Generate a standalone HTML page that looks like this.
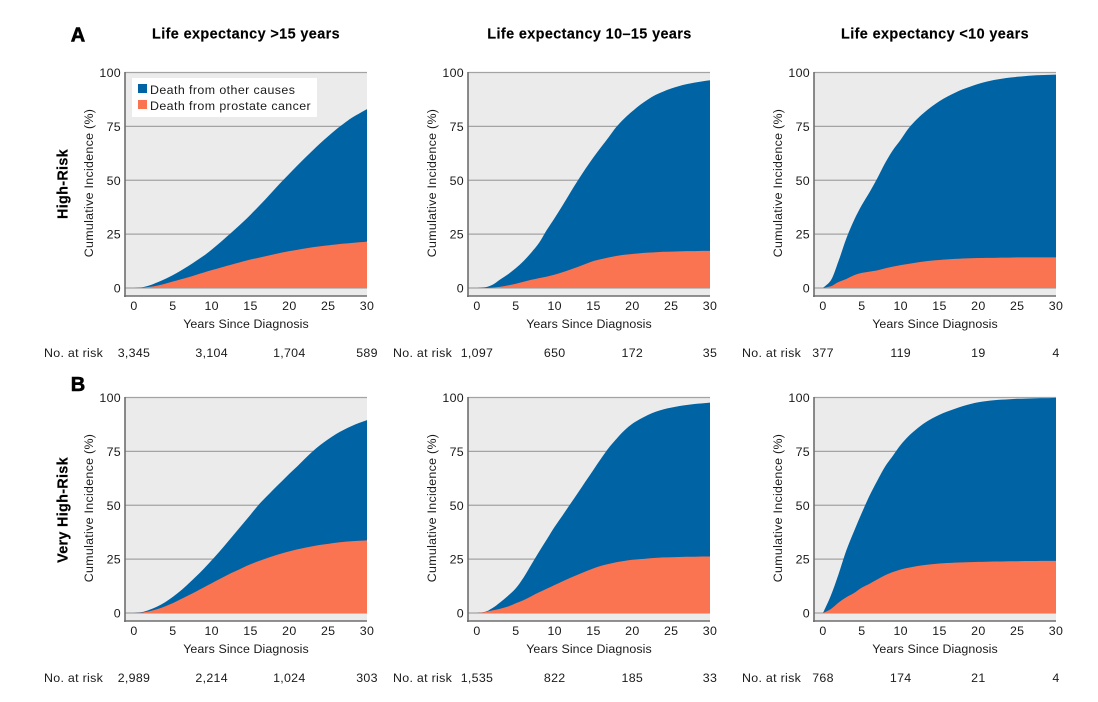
<!DOCTYPE html>
<html>
<head>
<meta charset="utf-8">
<style>
html,body{margin:0;padding:0;background:#fff;width:1098px;height:702px;overflow:hidden}
svg{display:block}
text{font-family:"Liberation Sans",sans-serif;fill:#1a1a1a;font-size:12.4px;letter-spacing:.3px}
.ttl{font-weight:bold;font-size:14.4px;letter-spacing:.4px;fill:#000;text-anchor:middle;stroke:#000;stroke-width:.15px}
.let{font-weight:bold;font-size:20px;fill:#000;text-anchor:middle;letter-spacing:0;stroke:#000;stroke-width:.6px}
.row{font-weight:bold;font-size:14.4px;fill:#000;text-anchor:middle;stroke:#000;stroke-width:.2px}
.ctr{text-anchor:middle}
.xt{letter-spacing:.1px}
.leg{letter-spacing:.42px}
</style>
</head>
<body>
<svg id="fig" xmlns="http://www.w3.org/2000/svg" width="1098" height="702" viewBox="0 0 1098 702">
  <text class="let" x="78" y="41.5">A</text>
  <text class="let" x="78" y="391">B</text>
  <text class="ttl" x="246" y="38.5">Life expectancy &gt;15 years</text>
  <text class="ttl" x="589.5" y="38.5">Life expectancy 10–15 years</text>
  <text class="ttl" x="935" y="38.5">Life expectancy &lt;10 years</text>
  <text class="row" transform="translate(67.5,184) rotate(-90)">High-Risk</text>
  <text class="row" transform="translate(67.5,510) rotate(-90)">Very High-Risk</text>

  <g id="panel-0" transform="translate(0,0)">
    <text class="ctr" transform="translate(93,183) rotate(-90)">Cumulative Incidence (%)</text>
    <text class="ctr xt" x="246" y="328">Years Since Diagnosis</text>
    <text x="44" y="357">No. at risk</text>
  </g>
  <g id="panel-1" transform="translate(343,0)">
    <text class="ctr" transform="translate(93,183) rotate(-90)">Cumulative Incidence (%)</text>
    <text class="ctr xt" x="246" y="328">Years Since Diagnosis</text>
    <text x="50" y="357">No. at risk</text>
  </g>
  <g id="panel-2" transform="translate(689,0)">
    <text class="ctr" transform="translate(93,183) rotate(-90)">Cumulative Incidence (%)</text>
    <text class="ctr xt" x="246" y="328">Years Since Diagnosis</text>
    <text x="53" y="357">No. at risk</text>
  </g>
  <g id="panel-3" transform="translate(0,325)">
    <text class="ctr" transform="translate(93,183) rotate(-90)">Cumulative Incidence (%)</text>
    <text class="ctr xt" x="246" y="328">Years Since Diagnosis</text>
    <text x="44" y="357">No. at risk</text>
  </g>
  <g id="panel-4" transform="translate(343,325)">
    <text class="ctr" transform="translate(93,183) rotate(-90)">Cumulative Incidence (%)</text>
    <text class="ctr xt" x="246" y="328">Years Since Diagnosis</text>
    <text x="50" y="357">No. at risk</text>
  </g>
  <g id="panel-5" transform="translate(689,325)">
    <text class="ctr" transform="translate(93,183) rotate(-90)">Cumulative Incidence (%)</text>
    <text class="ctr xt" x="246" y="328">Years Since Diagnosis</text>
    <text x="53" y="357">No. at risk</text>
  </g>

  <g id="legend">
    <rect x="132" y="78" width="185" height="39" fill="#fff"/>
    <rect x="138" y="84" width="9" height="9" fill="#0064a4"/>
    <text class="leg" x="150" y="94">Death from other causes</text>
    <rect x="138" y="100" width="9" height="9" fill="#fb7452"/>
    <text class="leg" x="150" y="110">Death from prostate cancer</text>
  </g>
</svg>

<script>
const years = [0,1,2,3,4,5,6,7,8,9,10,11,12,13,14,15,16,17,18,19,20,21,22,23,24,25,26,27,28,29,30];
const xTicks = [0,5,10,15,20,25,30];
const yTicks = [0,25,50,75,100];
const riskYears = [0,10,20,30];

const totalHighOver15 = [0,0.3,1.2,2.6,4.2,6,8,10.2,12.6,15,17.8,20.8,24,27.2,30.5,34,37.7,41.5,45.4,49.3,53,56.7,60.3,63.8,67.2,70.4,73.5,76.3,78.9,81,83];
const cancerHighOver15 = [0,0.1,0.5,1.1,2,3,4,5,6.1,7.2,8.3,9.3,10.3,11.3,12.3,13.2,14,14.8,15.6,16.4,17.1,17.7,18.3,18.9,19.4,19.8,20.2,20.6,20.9,21.2,21.5];
const riskHighOver15 = ["3,345","3,104","1,704","589"];

const totalHigh10to15 = [0,0.3,1.5,4,6.4,9.2,12.5,16.5,21,27,32.5,38.2,44.2,50,55.5,60.7,65.5,70.2,75,78.8,82,85,87.5,89.6,91.2,92.6,93.7,94.6,95.3,95.9,96.4];
const cancerHigh10to15 = [0,0,0.2,0.6,1.2,2,2.9,3.8,4.6,5.3,6.2,7.3,8.5,9.8,11.2,12.5,13.4,14.2,14.9,15.4,15.8,16.1,16.4,16.6,16.8,16.9,17,17.1,17.1,17.2,17.2];
const riskHigh10to15 = ["1,097","650","172","35"];

const totalHighUnder10 = [0,3.5,12.5,23,31.5,38.5,44.5,51,58,64,68.8,74,78,81.3,84.2,86.7,88.8,90.6,92.2,93.5,94.7,95.7,96.5,97.1,97.6,98,98.3,98.6,98.8,98.9,99];
const cancerHighUnder10 = [0,0.8,2.8,4.2,5.9,7,7.6,8.2,9.1,9.9,10.6,11.2,11.8,12.3,12.7,13,13.3,13.5,13.7,13.8,13.9,14,14,14.1,14.1,14.2,14.2,14.2,14.2,14.2,14.2];
const riskHighUnder10 = ["377","119","19","4"];

const totalVeryOver15 = [0,0.4,1.5,3,5,7.5,10.3,13.6,17,20.6,24.5,28.5,32.7,37,41.3,45.6,50,53.8,57.5,61,64.6,68,71.6,75,78,80.6,83,85,86.7,88.2,89.5];
const cancerVeryOver15 = [0,0.2,0.8,1.8,3.1,4.6,6.4,8.2,10,11.9,13.8,15.7,17.6,19.3,21,22.6,24,25.3,26.5,27.6,28.6,29.5,30.3,31,31.6,32.1,32.6,33,33.3,33.5,33.7];
const riskVeryOver15 = ["2,989","2,214","1,024","303"];

const totalVery10to15 = [0,0.5,2.3,5,8,11.5,16.5,22.5,28.5,34.2,40,45.2,50.5,55.8,61.2,66.5,71.8,76.8,81,84.8,87.8,90,91.9,93.4,94.5,95.3,96,96.5,97,97.3,97.6];
const cancerVery10to15 = [0,0.4,1.2,2,3,4.5,6,7.8,9.6,11.3,13,14.7,16.3,17.8,19.3,20.7,21.9,22.8,23.6,24.2,24.7,25,25.3,25.6,25.8,25.9,26,26.1,26.1,26.2,26.2];
const riskVery10to15 = ["1,535","822","185","33"];

const totalVeryUnder10 = [0,8,18,29,38,46.5,54.5,61.5,68,73,78,82,85.2,88,90.2,92,93.5,94.8,96,97,97.8,98.3,98.7,99,99.2,99.4,99.5,99.6,99.7,99.7,99.8];
const cancerVeryUnder10 = [0,1.8,4.8,7.3,9.3,11.8,13.6,15.6,17.5,19,20.2,21,21.7,22.2,22.6,23,23.2,23.4,23.5,23.6,23.7,23.8,23.9,23.9,24,24,24.1,24.1,24.2,24.2,24.2];
const riskVeryUnder10 = ["768","174","21","4"];

const panelTotals = [totalHighOver15,totalHigh10to15,totalHighUnder10,totalVeryOver15,totalVery10to15,totalVeryUnder10];
const panelCancers = [cancerHighOver15,cancerHigh10to15,cancerHighUnder10,cancerVeryOver15,cancerVery10to15,cancerVeryUnder10];
const panelRisks = [riskHighOver15,riskHigh10to15,riskHighUnder10,riskVeryOver15,riskVery10to15,riskVeryUnder10];

const NS = 'http://www.w3.org/2000/svg';
function xAxis(v){ return 134 + v * (233 / 30); }
function yAxis(v){ return 288 - v * (215.5 / 100); }
function make(tag, attrs, parent, before){
  const el = document.createElementNS(NS, tag);
  for (const k in attrs) el.setAttribute(k, attrs[k]);
  if (before) parent.insertBefore(el, before); else parent.appendChild(el);
  return el;
}
function areaPath(values){
  const xs = years.map(xAxis);
  const ys = values.map(yAxis);
  const n = xs.length;
  const slopes = [];
  for (let i = 0; i < n - 1; i++) slopes.push((ys[i + 1] - ys[i]) / (xs[i + 1] - xs[i]));
  const tang = [];
  for (let i = 0; i < n; i++) {
    if (i === 0) tang.push(slopes[0]);
    else if (i === n - 1) tang.push(slopes[n - 2]);
    else if (slopes[i - 1] * slopes[i] <= 0) tang.push(0);
    else tang.push(2 * slopes[i - 1] * slopes[i] / (slopes[i - 1] + slopes[i]));
  }
  let d = 'M' + xs[0].toFixed(2) + ' ' + yAxis(0).toFixed(2) + ' L' + xs[0].toFixed(2) + ' ' + ys[0].toFixed(2);
  for (let i = 0; i < n - 1; i++) {
    const h = (xs[i + 1] - xs[i]) / 3;
    d += ' C' + (xs[i] + h).toFixed(2) + ' ' + (ys[i] + tang[i] * h).toFixed(2) + ' ' +
         (xs[i + 1] - h).toFixed(2) + ' ' + (ys[i + 1] - tang[i + 1] * h).toFixed(2) + ' ' +
         xs[i + 1].toFixed(2) + ' ' + ys[i + 1].toFixed(2);
  }
  d += ' L' + xs[n - 1].toFixed(2) + ' ' + yAxis(0).toFixed(2) + ' Z';
  return d;
}

panelTotals.forEach(function(total, p){
  const g = document.getElementById('panel-' + p);
  const first = g.firstElementChild;

  const bg = make('rect', {x:125, y:72, width:242, height:224, fill:'#ebebeb'}, g, first);
  
  

  yTicks.forEach(function(t){
    const line = make('line', {x1:125, x2:367, y1:yAxis(t), y2:yAxis(t), stroke:'#a3a3a3', 'stroke-width':1.2}, g, first);
    
    
    const lab = make('text', {x:121, y:yAxis(t) + 4.5, 'text-anchor':'end'}, g, first);
    lab.textContent = t;
    
    
  });

  const other = make('path', {d:areaPath(total), fill:'#0064a4'}, g, first);
  
  

  const cancer = make('path', {d:areaPath(panelCancers[p]), fill:'#fb7452'}, g, first);
  
  

  const yLine = make('line', {x1:125, x2:125, y1:72, y2:297, stroke:'#6e6e6e', 'stroke-width':1.6}, g, first);
  
  

  const xLine = make('line', {x1:124, x2:367, y1:296, y2:296, stroke:'#6e6e6e', 'stroke-width':1.6}, g, first);
  
  

  xTicks.forEach(function(t){
    const lab = make('text', {x:xAxis(t), y:310, 'text-anchor':'middle'}, g, first);
    lab.textContent = t;
    
    
  });

  panelRisks[p].forEach(function(r, i){
    const lab = make('text', {x:xAxis(riskYears[i]), y:357, 'text-anchor':'middle'}, g);
    lab.textContent = r;
    
    
  });
});

const fig = document.getElementById('fig');
fig.appendChild(document.getElementById('legend'));
</script>
</body>
</html>
